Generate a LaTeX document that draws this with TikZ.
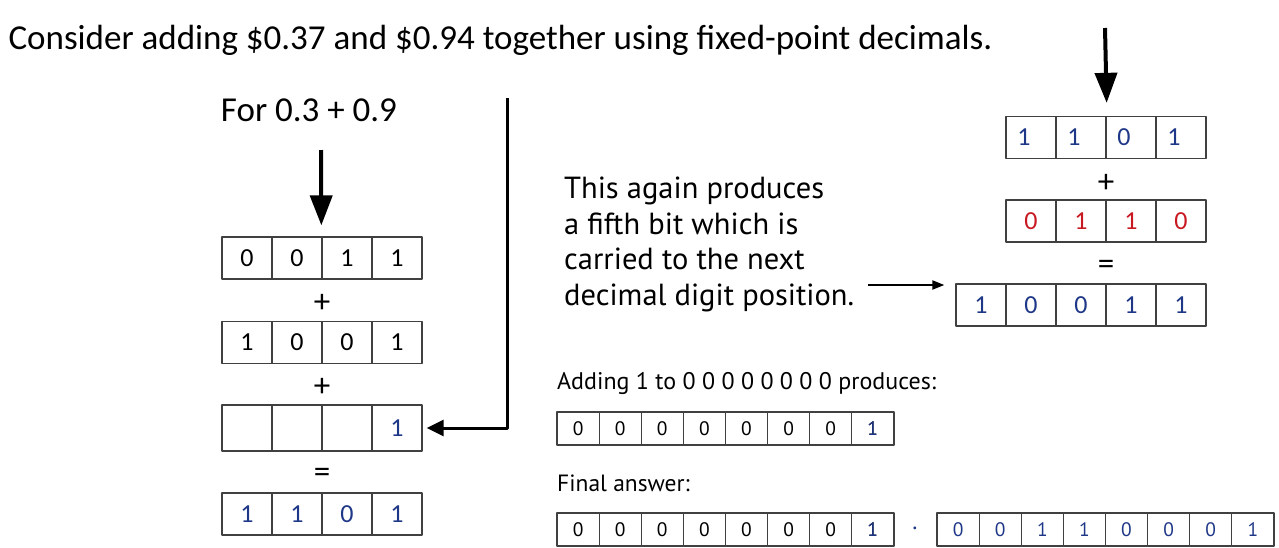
\documentclass[tikz,border=0pt]{standalone}
\usepackage{fontspec}
\setmainfont{Carlito}
\newfontfamily\slidefont{PT Sans}
\usetikzlibrary{arrows.meta,positioning}
\definecolor{digitblue}{RGB}{30,55,135}
\definecolor{digitred}{RGB}{200,25,35}

\begin{document}
\begin{tikzpicture}[x=1pt,y=-1pt,line join=round,
  cell/.style={draw=black!75,line width=1.3pt,minimum width=50pt,minimum height=42pt,inner sep=0pt,font=\fontsize{26}{26}\selectfont},
  smallcell/.style={cell,minimum width=42.1pt,minimum height=33pt,font=\slidefont\fontsize{19.5}{19.5}\selectfont},
  sign/.style={font=\fontsize{33}{33}\selectfont},
  bigarrow/.style={line width=4pt,-{Triangle[length=30pt,width=22pt]}},
  carry/.style={line width=3pt,-{Triangle[length=17pt,width=16pt]}},
  pointer/.style={line width=2pt,-{Triangle[length=12pt,width=9pt]}}]
\useasboundingbox (0,0) rectangle (1279,547);
\node[anchor=west,font=\fontsize{35}{35}\selectfont] (title) at (5,40) {Consider adding \$0.37 and \$0.94 together using fixed-point decimals.};
% left column: 0.3 + 0.9
\node[font=\fontsize{35}{35}\selectfont] (for) at (309,110) {For 0.3 + 0.9};
\coordinate (leftin) at (321,150);
\foreach \d [count=\i] in {0,0,1,1}
  \node[cell] (l1-\i) at (197+50*\i,258) {\d};
\node[sign] (lp1) at (322,303) {+};
\foreach \d [count=\i] in {1,0,0,1}
  \node[cell] (l2-\i) at (197+50*\i,342.5) {\d};
\node[sign] (lp2) at (322,387) {+};
\foreach \d [count=\i] in {{},{},{},1}
  \node[cell,minimum height=46pt,text=digitblue] (l3-\i) at (197+50*\i,428) {\d};
\node[sign] (leq) at (322,475) {=};
\foreach \d [count=\i] in {1,1,0,1}
  \node[cell,text=digitblue] (l4-\i) at (197+50*\i,514) {\d};
\draw[bigarrow] (leftin) -- ([yshift=11pt]l1-3.north west);
\coordinate (carrytop) at (507,98);
\draw[carry] (carrytop) |- ([xshift=4pt]l3-4.east);
% right column: carry into the next digit
\coordinate (topin) at (1105,28);
\foreach \d [count=\i] in {1,1,0,1}
  \node[cell,text=digitblue] (r1-\i) at (981+50*\i,137.5) {\d\hspace*{14pt}};
\node[sign] (rp) at (1106,183) {+};
\foreach \d [count=\i] in {0,1,1,0}
  \node[cell,text=digitred] (r2-\i) at (981+50*\i,221) {\d};
\node[sign] (req) at (1106,267) {=};
\foreach \d [count=\i] in {1,0,0,1,1}
  \node[cell,text=digitblue] (r3-\i) at (931+50*\i,305) {\d};
\draw[bigarrow] (topin) -- ([yshift=13pt]r1-2.north east);
\node[anchor=north west,align=left,inner sep=0pt,font=\slidefont\fontsize{30.5}{35.5}\selectfont] (note) at (564,177)
  {This again produces\\a fifth bit which is\\carried to the next\\decimal digit position.};
\coordinate (noteend) at (868,285);
\draw[pointer,shorten >=11pt] (noteend) -- (noteend -| r3-1.west);
% bottom: whole part and final answer
\node[anchor=west,inner sep=0pt,font=\slidefont\fontsize{24}{24}\selectfont] (adding) at (557,383) {Adding 1 to 0 0 0 0 0 0 0 0 produces:};
\foreach \d [count=\i] in {0,0,0,0,0,0,0,1}
  \node[smallcell] (w-\i) at (536+42.1*\i,428.5) {\d};
\node[text=digitblue,smallcell,draw=none] at (w-8) {1};
\node[anchor=west,inner sep=0pt,font=\slidefont\fontsize{23.5}{23.5}\selectfont] (final) at (557,483) {Final answer:};
\foreach \d [count=\i] in {0,0,0,0,0,0,0,1}
  \node[smallcell] (fw-\i) at (536+42.1*\i,529.5) {\d};
\node[text=digitblue,smallcell,draw=none] at (fw-8) {1};
\node[font=\slidefont\fontsize{24}{24}\selectfont,text=digitblue] (point) at (915,528) {.};
\foreach \d [count=\i] in {0,0,1,1,0,0,0,1}
  \node[smallcell,text=digitblue] (ff-\i) at (916+42.1*\i,529.5) {\d};
\end{tikzpicture}
\end{document}
